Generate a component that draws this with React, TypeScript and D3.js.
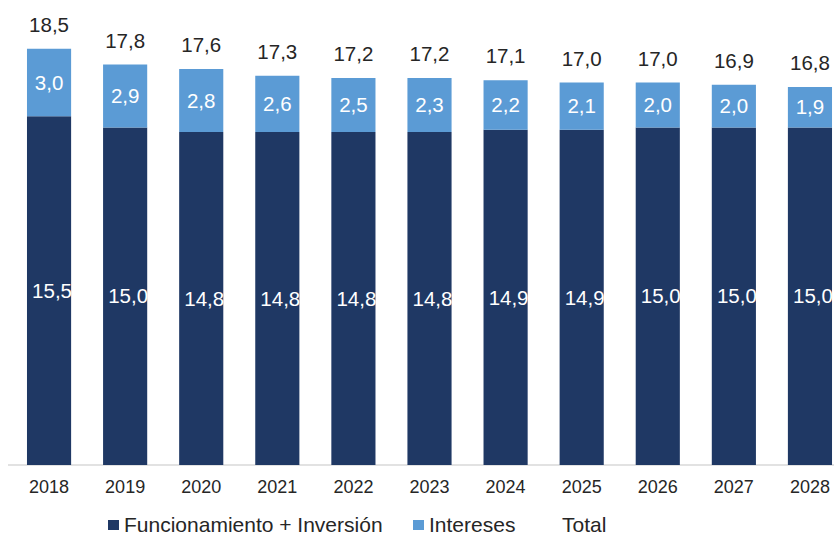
import React from "react";
import * as d3 from "d3";

const years = ["2018","2019","2020","2021","2022","2023","2024","2025","2026","2027","2028"];
const funcInv = [15.5,15.0,14.8,14.8,14.8,14.8,14.9,14.9,15.0,15.0,15.0];
const intereses = [3.0,2.9,2.8,2.6,2.5,2.3,2.2,2.1,2.0,2.0,1.9];
const totals = [18.5,17.8,17.6,17.3,17.2,17.2,17.1,17.0,17.0,16.9,16.8];

const W = 834, H = 537;
const DARK = "#1f3864";
const LIGHT = "#5b9bd5";
const FONT = "'Liberation Sans', Arial, sans-serif";
const fmt = (v: number) => v.toFixed(1).replace(".", ",");

export default function App() {
  const x = d3.scaleBand<string>().domain(years).range([11, 848]).paddingInner(0.42).paddingOuter(0.21);
  const y = d3.scaleLinear().domain([0, 20]).range([465, 15]);
  const bw = x.bandwidth();
  return (
    <svg width={W} height={H} style={{ position: "absolute", left: 0, top: 0, background: "#fff" }} fontFamily={FONT}>
      <line x1={8} x2={834} y1={y(0)} y2={y(0)} stroke="#d9d9d9" strokeWidth={1.5} />
      {years.map((yr, i) => {
        const x0 = x(yr)!;
        const cx = x0 + bw / 2;
        const fi = funcInv[i];
        const tot = totals[i];
        return (
          <g key={yr}>
            <rect x={x0} y={y(fi)} width={bw} height={y(0) - y(fi)} fill={DARK} />
            <rect x={x0} y={y(tot)} width={bw} height={y(fi) - y(tot)} fill={LIGHT} />
            <text x={cx + 3} y={(y(0) + y(fi)) / 2} dy="0.35em" textAnchor="middle" fill="#fff" fontSize={20.5}>{fmt(fi)}</text>
            <text x={cx} y={(y(fi) + y(tot)) / 2} dy="0.35em" textAnchor="middle" fill="#fff" fontSize={20.5}>{fmt(intereses[i])}</text>
            <text x={cx} y={y(tot) - 17} textAnchor="middle" fill="#262626" fontSize={20.5}>{fmt(tot)}</text>
            <text x={cx} y={493} textAnchor="middle" fill="#262626" fontSize={18}>{yr}</text>
          </g>
        );
      })}
      <g fontSize={21} fill="#262626">
        <rect x={108} y={520} width={11} height={10} fill={DARK} />
        <text x={124} y={532}>Funcionamiento + Inversión</text>
        <rect x={413} y={520} width={11} height={10} fill={LIGHT} />
        <text x={429} y={532}>Intereses</text>
        <text x={562} y={532}>Total</text>
      </g>
    </svg>
  );
}
